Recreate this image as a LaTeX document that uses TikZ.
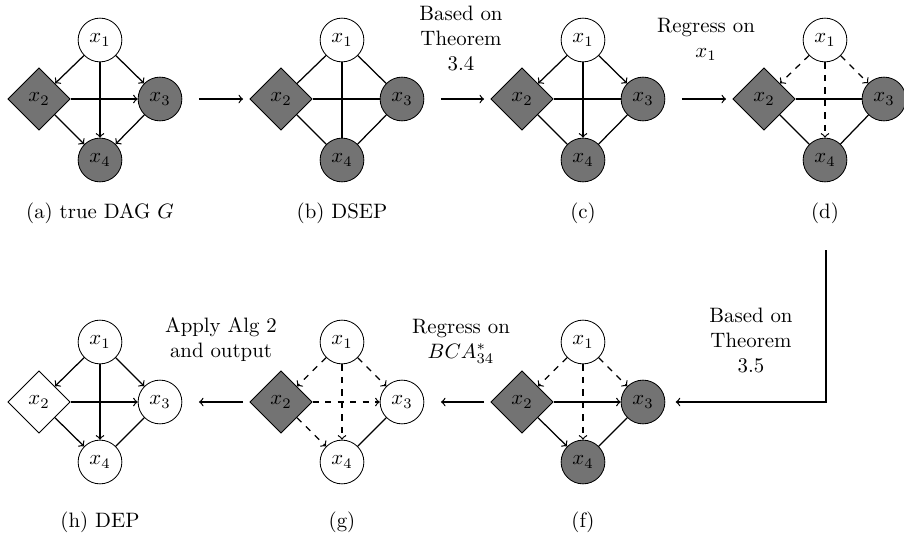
\documentclass[tikz,border=0pt]{standalone}
\usetikzlibrary{shapes.geometric}
\definecolor{nodegray}{RGB}{115,115,115}
\begin{document}
\begin{tikzpicture}[x=0.48pt,y=-0.48pt,
  vc/.style={circle, draw, minimum size=21pt, inner sep=0pt, fill=white},
  vd/.style={diamond, draw, minimum size=30pt, inner sep=0pt, fill=white},
  gr/.style={fill=nodegray},
  dir/.style={->, semithick},
  und/.style={semithick},
  dsh/.style={->, semithick, dashed},
  dshu/.style={semithick, dashed},
  step arrow/.style={->, semithick},
  lbl/.style={align=center, inner sep=0pt}]
\useasboundingbox (0,0) rectangle (904,541);

% ---------- (a) ----------
\node[vc] (a1) at (100,40) {$x_1$};
\node[vd,gr] (a2) at (39,99) {$x_2$};
\node[vc,gr] (a3) at (160,99) {$x_3$};
\node[vc,gr] (a4) at (100,160) {$x_4$};
\draw[dir] (a1) -- (a2);
\draw[dir] (a1) -- (a3);
\draw[dir] (a1) -- (a4);
\draw[dir] (a2) -- (a3);
\draw[dir] (a2) -- (a4);
\draw[dir] (a3) -- (a4);
\node (capa) at (100,213) {(a) true DAG $G$};

% ---------- (b) ----------
\node[vc] (b1) at (342,40) {$x_1$};
\node[vd,gr] (b2) at (281,99) {$x_2$};
\node[vc,gr] (b3) at (402,99) {$x_3$};
\node[vc,gr] (b4) at (342,160) {$x_4$};
\draw[und] (b1) -- (b2);
\draw[und] (b1) -- (b3);
\draw[und] (b1) -- (b4);
\draw[und] (b2) -- (b3);
\draw[und] (b2) -- (b4);
\draw[und] (b3) -- (b4);
\node (capb) at (342,213) {(b) DSEP};

% ---------- (c) ----------
\node[vc] (c1) at (583,40) {$x_1$};
\node[vd,gr] (c2) at (522,99) {$x_2$};
\node[vc,gr] (c3) at (643,99) {$x_3$};
\node[vc,gr] (c4) at (583,160) {$x_4$};
\draw[dir] (c1) -- (c2);
\draw[dir] (c1) -- (c3);
\draw[dir] (c1) -- (c4);
\draw[und] (c2) -- (c3);
\draw[und] (c2) -- (c4);
\draw[und] (c3) -- (c4);
\node (capc) at (583,213) {(c)};

% ---------- (d) ----------
\node[vc] (d1) at (825,40) {$x_1$};
\node[vd,gr] (d2) at (764,99) {$x_2$};
\node[vc,gr] (d3) at (884,99) {$x_3$};
\node[vc,gr] (d4) at (825,160) {$x_4$};
\draw[dsh] (d1) -- (d2);
\draw[dsh] (d1) -- (d3);
\draw[dsh] (d1) -- (d4);
\draw[und] (d2) -- (d3);
\draw[und] (d2) -- (d4);
\draw[und] (d3) -- (d4);
\node (capd) at (825,213) {(d)};

% ---------- (f) ----------
\node[vc] (f1) at (583,342) {$x_1$};
\node[vd,gr] (f2) at (522,402) {$x_2$};
\node[vc,gr] (f3) at (643,402) {$x_3$};
\node[vc,gr] (f4) at (583,462) {$x_4$};
\draw[dsh] (f1) -- (f2);
\draw[dsh] (f1) -- (f3);
\draw[dsh] (f1) -- (f4);
\draw[dir] (f2) -- (f3);
\draw[dir] (f2) -- (f4);
\draw[und] (f3) -- (f4);
\node (capf) at (583,522) {(f)};

% ---------- (g) ----------
\node[vc] (g1) at (342,342) {$x_1$};
\node[vd,gr] (g2) at (281,402) {$x_2$};
\node[vc] (g3) at (402,402) {$x_3$};
\node[vc] (g4) at (342,462) {$x_4$};
\draw[dsh] (g1) -- (g2);
\draw[dsh] (g1) -- (g3);
\draw[dsh] (g1) -- (g4);
\draw[dsh] (g2) -- (g3);
\draw[dsh] (g2) -- (g4);
\draw[und] (g3) -- (g4);
\node (capg) at (342,522) {(g)};

% ---------- (h) ----------
\node[vc] (h1) at (100,342) {$x_1$};
\node[vd] (h2) at (39,402) {$x_2$};
\node[vc] (h3) at (160,402) {$x_3$};
\node[vc] (h4) at (100,462) {$x_4$};
\draw[dir] (h1) -- (h2);
\draw[dir] (h1) -- (h3);
\draw[dir] (h1) -- (h4);
\draw[dir] (h2) -- (h3);
\draw[dir] (h2) -- (h4);
\draw[und] (h3) -- (h4);
\node (caph) at (100,522) {(h) DEP};

% ---------- step arrows ----------
\draw[step arrow, shorten <=8pt, shorten >=3pt] (a3) -- (b2);
\draw[step arrow, shorten <=8pt, shorten >=3pt] (b3) -- (c2);
\draw[step arrow, shorten <=8pt, shorten >=3pt] (c3) -- (d2);
\coordinate (dstart) at (826,250);
\draw[step arrow, shorten >=5pt] (dstart) |- (f3);
\draw[step arrow, shorten <=3pt, shorten >=8pt] (f2) -- (g3);
\draw[step arrow, shorten <=3pt, shorten >=8pt] (g2) -- (h3);

% ---------- step labels ----------
\node[lbl] (t1) at (461,38) {Based on\\Theorem\\3.4};
\node[lbl] (t2) at (706,39) {Regress on\\$x_1$};
\node[lbl] (t3) at (751,340) {Based on\\Theorem\\3.5};
\node[lbl] (t4) at (461,341) {Regress on\\$BCA^{*}_{34}$};
\node[lbl] (t5) at (221,340) {Apply Alg 2\\and output};
\end{tikzpicture}
\end{document}
